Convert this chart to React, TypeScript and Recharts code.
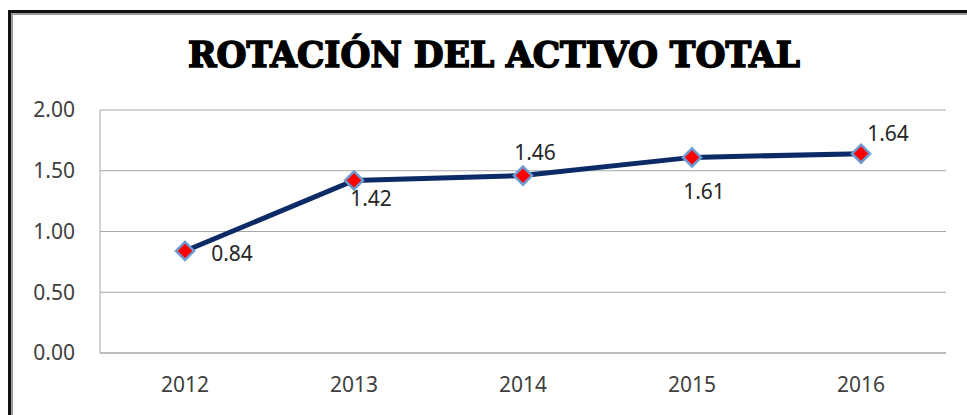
import { LineChart, Line, XAxis, YAxis, CartesianGrid, LabelList } from 'recharts'

const years = ['2012', '2013', '2014', '2015', '2016']
const rotacion = [0.84, 1.42, 1.46, 1.61, 1.64]
const yTicks = [0, 0.5, 1, 1.5, 2]
// where each value label sits relative to its point (as in the original)
const labelOffsets = [
  { dx: 47, dy: 3 },
  { dx: 17, dy: 18 },
  { dx: 12, dy: -23 },
  { dx: 12, dy: 34 },
  { dx: 27, dy: -20 },
]

const data = years.map((year, i) => ({ year, value: rotacion[i] }))

const tickStyle = { fill: '#404040', fontSize: 21, fontFamily: '"Noto Sans", sans-serif' }

function Diamond(props: any) {
  const { cx, cy } = props
  if (cx == null || cy == null) return null
  const r = 9
  return (
    <path
      d={`M${cx},${cy - r} L${cx + r},${cy} L${cx},${cy + r} L${cx - r},${cy} Z`}
      fill="#FF0000"
      stroke="#6C9BD2"
      strokeWidth={2.5}
    />
  )
}

function ValueLabel(props: any) {
  const { x, y, value, index } = props
  const off = labelOffsets[index] || { dx: 0, dy: -15 }
  return (
    <text
      x={x + off.dx}
      y={y + off.dy}
      dy="0.355em"
      textAnchor="middle"
      fill="#262626"
      fontSize={21}
      fontFamily='"Noto Sans", sans-serif'
    >
      {Number(value).toFixed(2)}
    </text>
  )
}

export default function App() {
  return (
    <div style={{ position: 'fixed', left: 0, top: 0, width: 967, height: 415, overflow: 'hidden', background: '#fff' }}>
      <div
        style={{
          position: 'absolute',
          left: 8,
          top: 10,
          width: 1000,
          height: 450,
          borderLeft: '3px solid #111',
          borderTop: '3px solid #111',
          boxShadow: 'inset 2px 2px 0 #9a9a9a',
          boxSizing: 'border-box',
        }}
      />
      <svg width={967} height={100} style={{ position: 'absolute', left: 0, top: 0 }}>
        <text
          x={188}
          y={67}
          textLength={612}
          lengthAdjust="spacingAndGlyphs"
          fontFamily='"DejaVu Serif", serif'
          fontWeight={900}
          fontSize={35}
          fill="#000"
          stroke="#000"
          strokeWidth={1.6}
        >
          ROTACIÓN DEL ACTIVO TOTAL
        </text>
      </svg>
      <div style={{ position: 'absolute', left: 0, top: 0 }}>
        <LineChart width={967} height={415} data={data} margin={{ top: 110, right: 21, bottom: 0, left: 0 }}>
          <CartesianGrid vertical={false} stroke="#a6a6a6" strokeWidth={1} />
          <XAxis
            dataKey="year"
            stroke="#a6a6a6"
            tickLine={false}
            tickSize={0}
            tickMargin={24}
            tick={tickStyle}
            height={62}
            padding={{ left: 85, right: 85 }}
          />
          <YAxis
            domain={[0, 2]}
            ticks={yTicks}
            width={100}
            stroke="#a6a6a6"
            tickLine={false}
            tickSize={0}
            tickMargin={25}
            tick={tickStyle}
            tickFormatter={(v: number) => v.toFixed(2)}
          />
          <Line
            type="linear"
            dataKey="value"
            stroke="#0B2A66"
            strokeWidth={5}
            dot={<Diamond />}
            activeDot={false}
            isAnimationActive={false}
          >
            <LabelList dataKey="value" content={<ValueLabel />} />
          </Line>
        </LineChart>
      </div>
    </div>
  )
}
